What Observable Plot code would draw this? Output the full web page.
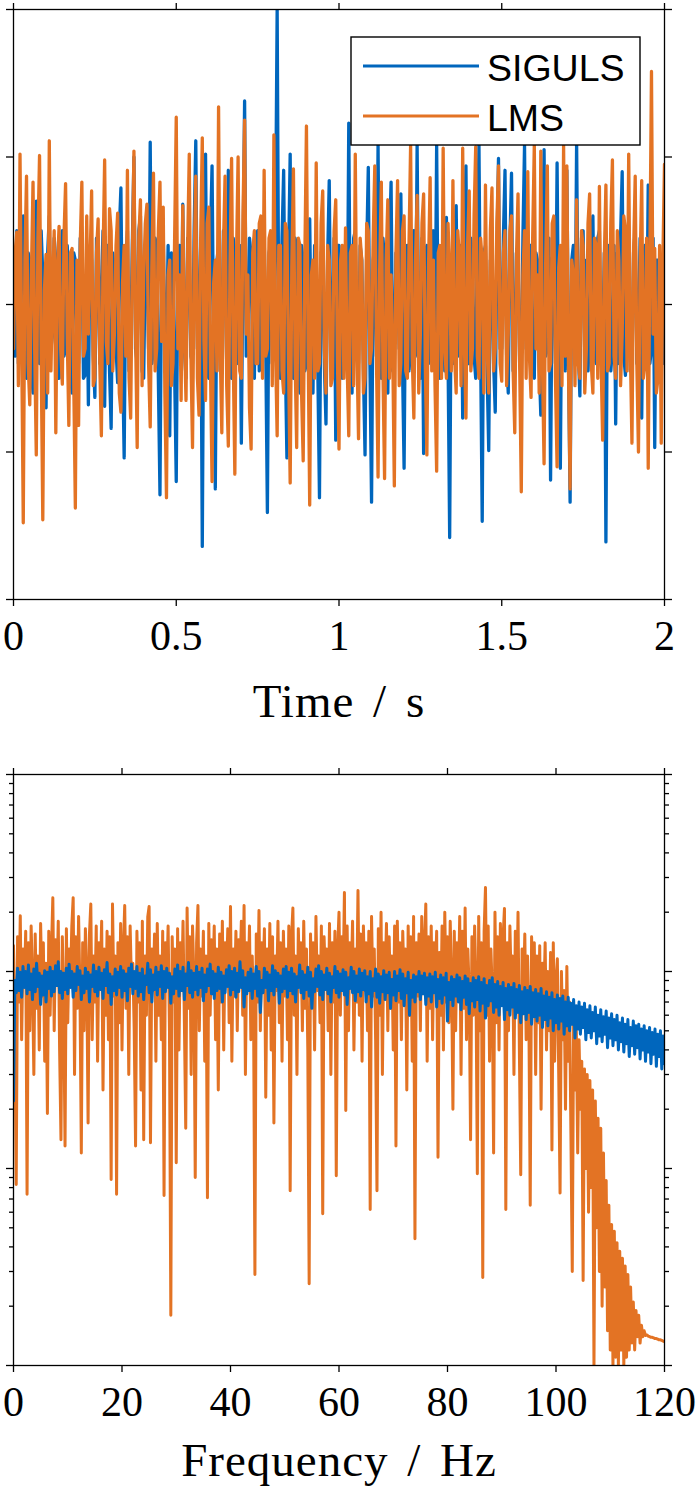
<!DOCTYPE html>
<html>
<head>
<meta charset="utf-8">
<script src="https://cdn.jsdelivr.net/npm/d3@7"></script>
<script src="https://cdn.jsdelivr.net/npm/@observablehq/plot@0.6"></script>
<style>
  body { margin: 0; background: #fff; }
  #wrap { position: relative; width: 698px; height: 1496px; background: #fff; }
  #wrap svg { position: absolute; left: 0; }
</style>
</head>
<body>
<div id="wrap"></div>
<script>
// ---------- DATA ----------
const seriesNames = ["SIGULS", "LMS"];
const sampleRate = 200;          // digitised samples per second (time panel)
const freqStep = 0.25;           // digitised bin spacing in Hz (spectrum panel)
const timeTicks = [0, 0.5, 1, 1.5, 2];
const timeValueTicks = [-2, -1, 0, 1, 2];
const freqTicks = [0, 20, 40, 60, 80, 100, 120];
const specDecades = [0.001, 0.01, 0.1, 1];
const axisLabels = ["Time / s", "Frequency / Hz"];

const sigulsTime = [
  0.0,-0.35, 0.5,-0.4, -0.3,0.45, 0.6,-0.3, -0.5,0.35, 0.3,-0.45, -0.6,0.3, 0.7,-0.25, -0.4,0.5, 0.2,-0.4,
  -0.7,0.35, 0.6,-0.3, -0.2,0.45, 0.3,-0.5, -0.5,0.3, 0.5,-0.35, -0.3,0.4, 0.2,-0.45, -0.6,0.35, 0.3,-0.3,
  -0.4,0.45, 0.4,-0.5, -0.48,0.3, -0.68,0.4, 0.3,-0.35, -0.63,0.45, 0.32,-0.4, 0.1,0.5, -0.69,0.3, 0.4,-0.45,
  -0.84,0.35, 0.2,-0.3, -0.53,0.5, 0.79,-0.35, -1.04,0.3, 0.5,-0.45, -0.3,0.4, 1.0,-0.3, -0.4,0.5, 0.6,-0.45,
  -0.5,0.35, 0.4,-0.3, 1.1,-0.4, -0.3,0.45, 0.4,-0.5, -1.29,0.3, 0.5,-0.35, -0.3,0.4, -0.89,0.35, 0.3,-0.45,
  -1.2,0.3, 0.4,-0.4, 0.68,-0.3, -0.5,0.45, 0.3,-0.35, -0.4,0.5, 1.11,-0.3, -0.2,0.4, -1.64,0.35, 1.02,-0.4,
  -0.5,0.45, 0.94,-0.35, -1.25,0.3, 0.4,-0.45, -0.3,0.5, 0.22,-0.4, 0.91,-0.3, -0.5,0.45, 0.33,-0.35, -0.4,0.4,
  -0.94,0.3, 1.38,-0.35, -0.3,0.45, 0.34,-0.4, -0.5,0.35, 0.5,-0.45, -0.4,0.4, 0.5,-0.3, -1.41,0.35, 0.41,-0.4,
  -0.3,0.5, 2.0,-0.2, -0.5,0.45, 0.91,-0.35, -1.04,0.3, 1.02,-0.4, -0.5,0.45, 0.4,-0.35, -0.6,0.4, 0.3,-0.45,
  -0.4,0.5, 0.58,-0.35, -0.6,0.4, 0.3,-0.45, -1.31,0.35, 0.4,-0.4, -0.81,0.3, 0.84,-0.35, -0.3,0.45, -0.92,0.4,
  0.4,-0.45, -0.5,0.35, 0.3,-0.4, 1.23,-0.3, -0.6,0.45, 0.5,-0.35, -0.4,0.4, 0.3,-0.45, -1.02,0.35, 0.93,-0.4,
  -1.34,0.3, 0.4,-0.35, 1.08,-0.4, -0.5,0.45, 0.3,-0.35, -0.6,0.4, 0.83,-0.45, -0.4,0.35, 0.3,-0.3, 0.75,-0.4,
  -1.11,0.3, 0.4,-0.45, -0.3,0.4, 0.5,-0.35, 1.08,-0.3, -0.5,0.45, -1.01,0.35, 0.4,-0.4, -0.3,0.45, 0.5,-0.35,
  1.08,-0.3, -0.5,0.4, 0.3,-0.45, 0.59,-0.35, -1.58,0.3, -0.4,0.45, 0.67,-0.35, -0.2,0.4, -0.77,0.35, 0.94,-0.4,
  -0.4,0.45, 0.3,-0.35, -0.5,0.4, 1.08,-0.3, -1.47,0.35, 0.4,-0.45, -0.99,0.3, 0.3,-0.4, -0.73,0.35, 0.99,-0.3,
  -0.3,0.45, 0.91,-0.35, -0.6,0.4, 0.89,-0.45, -0.4,0.35, 0.3,-0.4, -0.5,0.45, 1.08,-0.3, -0.3,0.4, 0.4,-0.45,
  -0.5,0.35, 0.3,-0.4, -0.75,0.3, 1.05,-0.35, -0.3,0.45, -1.19,0.3, 0.4,-0.4, 0.96,-0.35, -1.11,0.3, 0.4,-0.45,
  0.91,-0.35, -1.34,0.3, 0.4,-0.4, 1.1,-0.3, -0.62,0.45, 0.5,-0.35, 0.3,-0.45, -0.19,0.4, 0.6,-0.35, -0.4,0.45,
  0.5,-0.4, -0.3,0.35, -1.61,0.3, 0.4,-0.45, -0.3,0.4, -0.81,0.35, -0.4,0.45, 0.9,-0.35, -0.48,0.4, 0.3,-0.45,
  -0.4,0.35, 0.5,-0.4, -0.2,0.45, -0.77,0.3, 0.4,-0.35, 0.81,-0.4, -0.3,0.45, -0.97,0.3, 0.3,-0.35, 0.16,-0.4,
  -0.24
];

const lmsTime = [
  -0.30,0.35, 0.49,-0.55, 1.02,-0.25, -1.48,0.30, 0.87,-0.40, -0.68,0.20, 0.83,-0.30, -1.02,0.45, 1.01,-0.35, -1.46,0.10,
  0.34,-0.60, 1.11,-0.45, 0.10,0.50, -0.87,0.25, 0.53,-0.30, -0.54,0.45, 0.82,-0.20, -0.82,0.35, 0.38,-0.50, -1.38,0.30,
  -0.82,0.40, 0.83,-0.35, -0.30,0.60, -0.20,0.25, 0.77,-0.55, -0.50,0.35, 0.58,-0.40, -0.89,0.30, 0.98,-0.25, -0.40,0.65,
  0.50,-0.45, -0.20,0.40, 0.62,-0.60, -0.73,0.15, 0.40,-0.35, 0.91,-0.50, -0.77,0.30, 1.04,-0.20, -0.97,0.45, 0.71,-0.55,
  0.20,0.55, 0.68,-0.40, -0.83,0.25, 0.89,-0.45, -0.30,0.50, 0.83,-0.25, 0.66,-0.60, -1.31,0.20, 0.30,-0.55, -0.40,0.45,
  1.27,-0.30, 0.20,-0.65, 0.67,-0.20, -0.65,0.40, 1.02,-0.35, -0.97,0.30, 0.87,-0.50, -0.75,0.45, 1.13,-0.25, -0.65,0.55,
  0.66,-0.40, -1.20,0.15, 0.30,-0.45, 1.34,-0.30, -0.87,0.40, 0.87,-0.55, -0.96,0.25, 0.99,-0.35, -1.15,0.30, 1.00,-0.45,
  -0.50,0.60, 1.25,-0.20, 0.20,-0.70, -0.98,0.35, 0.50,-0.40, -0.40,0.55, 0.60,-0.50, 0.91,-0.35, -0.30,0.45, 0.50,-0.55,
  1.15,-0.30, -0.89,0.40, 0.40,-0.45, -0.60,0.55, 0.50,-0.40, -1.21,0.25, 0.92,-0.35, -0.97,0.45, 0.40,-0.60, -1.06,0.30,
  1.21,-0.25, -1.36,0.20, 0.30,-0.50, 0.96,-0.45, -0.40,0.55, 0.77,-0.30, -0.60,0.40, 0.30,-0.55, -0.50,0.50, 0.71,-0.35,
  -0.98,0.30, 0.40,-0.50, 0.52,-0.40, -0.89,0.35, 0.40,-0.55, 1.02,-0.30, -0.91,0.45, 0.30,-0.60, -0.50,0.55, 0.50,-0.40,
  -0.30,0.45, 0.94,-0.35, -1.17,0.25, 0.83,-0.45, -1.18,0.30, 0.71,-0.50, 0.20,-0.30, -1.23,0.35, 0.84,-0.55, -0.40,0.50,
  0.60,-0.45, -0.50,0.40, 1.08,-0.35, -0.77,0.30, 0.74,-0.60, -0.20,0.55, 0.75,-0.40, -1.02,0.25, 0.86,-0.45, 0.30,-0.55,
  -1.13,0.35, 0.40,-0.50, 1.06,-0.30, -0.50,0.55, 0.20,-0.45, 0.84,-0.35, -0.60,0.50, 0.30,-0.55, 1.06,-0.25, -0.77,0.40,
  0.77,-0.45, -0.30,0.60, 1.07,-0.35, -0.50,0.45, 0.30,-0.60, 0.81,-0.30, -0.60,0.50, 0.79,-0.45, -0.30,0.55, 0.94,-0.40,
  -0.52,0.35, 0.50,-0.55, -0.20,0.50, 0.60,-0.45, -0.87,0.30, 0.75,-0.40, -1.27,0.20, 0.50,-0.50, 0.90,-0.35, -0.63,0.45,
  1.08,-0.30, 0.20,-0.60, 1.04,-0.40, -1.08,0.30, 0.94,-0.45, -0.40,0.55, 0.60,-0.50, -1.10,0.25, 0.40,-0.55, 1.08,-0.35,
  0.94,-0.45, -1.25,0.30, 0.20,-0.55, 0.71,-0.40, -0.50,0.50, 0.40,-0.60, -0.30,0.55, 0.75,-0.40, -0.60,0.45, 0.40,-0.50,
  0.80,-0.35, -0.92,0.30, 0.81,-0.45, -0.40,0.55, 0.98,-0.35, -0.50,0.50, 0.30,-0.55, -0.20,0.60, 0.50,-0.45, 1.02,-0.30,
  -0.94,0.35, 0.87,-0.40, -1.00,0.25, 0.84,-0.50, -0.40,0.45, -1.11,0.30, 1.58,-0.20, 0.38,-0.60, -0.50,0.40, -0.94,0.30,
  0.95
];

const sigulsSpec = [
  0.022,0.09,0.078,0.104,0.08,0.099,0.074,0.106,0.083,0.1,0.077,0.108,0.081,0.097,0.072,0.103,0.079,0.11,0.084,0.098,
  0.068,0.095,0.076,0.101,0.07,0.099,0.082,0.105,0.075,0.1,0.079,0.107,0.085,0.112,0.078,0.1,0.073,0.098,0.081,0.104,
  0.077,0.109,0.083,0.1,0.074,0.097,0.08,0.106,0.086,0.101,0.072,0.095,0.078,0.104,0.082,0.099,0.07,0.096,0.084,0.108,
  0.079,0.1,0.075,0.105,0.081,0.098,0.073,0.102,0.085,0.111,0.078,0.097,0.068,0.094,0.08,0.103,0.076,0.099,0.083,0.106,
  0.074,0.101,0.08,0.097,0.071,0.104,0.084,0.109,0.077,0.1,0.082,0.106,0.075,0.098,0.079,0.103,0.072,0.095,0.086,0.11,
  0.078,0.102,0.07,0.096,0.081,0.105,0.076,0.099,0.084,0.107,0.073,0.1,0.079,0.104,0.083,0.098,0.069,0.094,0.077,0.103,
  0.082,0.108,0.075,0.1,0.08,0.105,0.072,0.097,0.085,0.111,0.078,0.101,0.074,0.098,0.081,0.106,0.076,0.099,0.083,0.104,
  0.071,0.096,0.079,0.103,0.085,0.109,0.077,0.1,0.073,0.097,0.08,0.105,0.082,0.099,0.07,0.095,0.078,0.102,0.084,0.107,
  0.076,0.1,0.081,0.104,0.074,0.098,0.079,0.112,0.083,0.101,0.066,0.093,0.077,0.099,0.08,0.103,0.073,0.097,0.082,0.106,
  0.075,0.1,0.062,0.09,0.078,0.104,0.083,0.099,0.071,0.096,0.08,0.107,0.076,0.101,0.084,0.098,0.069,0.095,0.079,0.103,
  0.082,0.106,0.074,0.099,0.08,0.104,0.077,0.097,0.07,0.094,0.083,0.108,0.078,0.1,0.073,0.096,0.081,0.105,0.075,0.099,
  0.065,0.092,0.079,0.103,0.084,0.107,0.076,0.1,0.072,0.096,0.081,0.104,0.077,0.098,0.07,0.094,0.083,0.106,0.078,0.1,
  0.074,0.097,0.08,0.102,0.076,0.099,0.068,0.093,0.082,0.105,0.078,0.1,0.071,0.095,0.079,0.103,0.075,0.098,0.081,0.101,
  0.07,0.094,0.077,0.1,0.066,0.092,0.08,0.103,0.074,0.097,0.069,0.094,0.079,0.101,0.072,0.096,0.078,0.099,0.065,0.091,
  0.076,0.1,0.071,0.095,0.08,0.102,0.073,0.097,0.067,0.092,0.078,0.099,0.06,0.09,0.074,0.096,0.07,0.094,0.079,0.1,
  0.072,0.095,0.077,0.098,0.068,0.093,0.075,0.097,0.07,0.094,0.078,0.099,0.066,0.091,0.073,0.096,0.069,0.093,0.076,0.098,
  0.056,0.088,0.072,0.094,0.067,0.091,0.075,0.096,0.07,0.093,0.064,0.089,0.074,0.095,0.068,0.092,0.061,0.087,0.071,0.093,
  0.066,0.09,0.072,0.094,0.063,0.088,0.069,0.092,0.058,0.085,0.067,0.09,0.071,0.093,0.062,0.086,0.066,0.089,0.06,0.084,
  0.067,0.088,0.057,0.082,0.064,0.086,0.06,0.083,0.066,0.087,0.058,0.081,0.062,0.085,0.055,0.079,0.061,0.083,0.057,0.08,
  0.062,0.084,0.054,0.078,0.059,0.081,0.056,0.077,0.06,0.082,0.052,0.075,0.057,0.079,0.053,0.074,0.058,0.078,0.05,0.072,
  0.055,0.076,0.051,0.073,0.056,0.075,0.048,0.07,0.053,0.074,0.05,0.069,0.054,0.072,0.046,0.067,0.051,0.07,0.048,0.066,
  0.052,0.069,0.045,0.064,0.049,0.067,0.046,0.062,0.05,0.066,0.043,0.06,0.047,0.064,0.044,0.059,0.048,0.063,0.041,0.058,
  0.046,0.061,0.042,0.057,0.045,0.06,0.04,0.055,0.044,0.058,0.039,0.054,0.043,0.057,0.037,0.052,0.042,0.056,0.038,0.053,
  0.041,0.054,0.036,0.051,0.04,0.053,0.035,0.05,0.039,0.052,0.034,0.049,0.038,0.051,0.033,0.048,0.037,0.05,0.032,0.047,
  0.034
];

const lmsSpec = [
  0.135,0.06,0.0083,0.15,0.07,0.192,0.045,0.13,0.085,0.16,0.0074,0.14,0.05,0.17,0.09,0.03,0.155,0.065,0.12,0.04,
  0.175,0.075,0.14,0.035,0.11,0.019,0.16,0.06,0.13,0.237,0.05,0.145,0.085,0.18,0.04,0.014,0.15,0.07,0.013,0.165,
  0.055,0.13,0.09,0.17,0.237,0.03,0.15,0.065,0.19,0.08,0.012,0.14,0.05,0.165,0.1,0.017,0.155,0.22,0.045,0.12,
  0.07,0.17,0.035,0.14,0.09,0.18,0.025,0.13,0.06,0.16,0.045,0.15,0.0088,0.22,0.075,0.12,0.0074,0.14,0.055,0.175,
  0.04,0.13,0.216,0.065,0.15,0.03,0.17,0.085,0.11,0.05,0.013,0.16,0.07,0.14,0.025,0.18,0.014,0.12,0.06,0.19,
  0.214,0.0135,0.13,0.08,0.155,0.035,0.175,0.06,0.12,0.045,0.16,0.0073,0.14,0.09,0.17,0.05,0.0018,0.15,0.07,0.13,
  0.0107,0.165,0.04,0.14,0.08,0.18,0.055,0.016,0.21,0.065,0.15,0.03,0.17,0.095,0.009,0.14,0.216,0.05,0.13,0.075,
  0.16,0.035,0.12,0.0071,0.175,0.06,0.145,0.085,0.17,0.045,0.13,0.025,0.155,0.07,0.18,0.04,0.14,0.09,0.165,0.055,
  0.214,0.035,0.13,0.075,0.16,0.05,0.145,0.1,0.18,0.06,0.216,0.03,0.14,0.085,0.17,0.045,0.12,0.065,0.0029,0.155,
  0.07,0.204,0.05,0.14,0.09,0.165,0.023,0.13,0.06,0.175,0.04,0.15,0.017,0.12,0.08,0.18,0.055,0.14,0.035,0.16,
  0.075,0.13,0.045,0.17,0.0077,0.15,0.21,0.06,0.12,0.03,0.165,0.085,0.14,0.05,0.18,0.065,0.13,0.04,0.0026,0.155,
  0.07,0.14,0.04,0.19,0.08,0.12,0.055,0.17,0.0059,0.15,0.09,0.13,0.05,0.175,0.03,0.14,0.07,0.16,0.0092,0.13,
  0.2,0.06,0.15,0.085,0.252,0.0197,0.17,0.05,0.14,0.09,0.18,0.04,0.13,0.07,0.258,0.06,0.155,0.035,0.17,0.08,
  0.14,0.05,0.16,0.0062,0.19,0.075,0.13,0.045,0.0077,0.165,0.06,0.2,0.03,0.14,0.09,0.175,0.05,0.15,0.065,0.12,
  0.04,0.17,0.013,0.18,0.07,0.14,0.045,0.16,0.085,0.13,0.025,0.17,0.06,0.15,0.035,0.19,0.0044,0.14,0.075,0.155,
  0.05,0.19,0.08,0.13,0.22,0.035,0.15,0.065,0.17,0.045,0.14,0.09,0.16,0.0114,0.125,0.06,0.17,0.04,0.2,0.07,
  0.15,0.055,0.18,0.09,0.02,0.16,0.05,0.14,0.075,0.19,0.03,0.16,0.065,0.21,0.045,0.13,0.08,0.014,0.15,0.06,
  0.17,0.085,0.0094,0.19,0.05,0.14,0.0028,0.16,0.267,0.06,0.17,0.035,0.13,0.08,0.012,0.2,0.055,0.15,0.04,0.175,
  0.07,0.15,0.209,0.0062,0.14,0.05,0.17,0.085,0.12,0.03,0.16,0.065,0.2,0.04,0.0093,0.13,0.075,0.155,0.045,0.12,
  0.06,0.0065,0.15,0.08,0.14,0.03,0.12,0.055,0.135,0.02,0.11,0.07,0.14,0.04,0.1,0.05,0.125,0.0124,0.14,0.035,
  0.09,0.116,0.03,0.0075,0.1,0.045,0.08,0.02,0.106,0.035,0.07,0.015,0.003,0.06,0.025,0.05,0.012,0.045,0.02,0.035,
  0.0027,0.032,0.01,0.03,0.006,0.028,0.008,0.025,0.001,0.022,0.005,0.018,0.003,0.016,0.002,0.012,0.0025,0.0087,0.0015,0.0065,
  0.0012,0.0052,0.001,0.0048,0.0011,0.0042,0.001,0.0038,0.0012,0.0035,0.001,0.0032,0.0011,0.0029,0.0012,0.0025,0.0013,0.0021,0.0012,0.0019,
  0.0014,0.0018,0.0013,0.0016,0.0014,0.0015,0.00142,0.00143,0.00141,0.0014,0.00139,0.00139,0.00138,0.00137,0.00137,0.00136,0.00135,0.00135,0.00134,0.00133,
  0.00132
];

// ---------- STYLE ----------
const blue = "#0066BD";
const orange = "#E37324";
const serif = "'Liberation Serif', 'Times New Roman', serif";
const tickFont = 42;

const sigT = sigulsTime.map((v, i) => ({t: i / sampleRate, v}));
const lmsT = lmsTime.map((v, i) => ({t: i / sampleRate, v}));
const sigF = sigulsSpec.map((v, i) => ({f: i * freqStep, v}));
const lmsF = lmsSpec.map((v, i) => ({f: i * freqStep, v}));
const minorTicks = specDecades.slice(0, -1).flatMap(d => [2,3,4,5,6,7,8,9].map(k => k * d));

const blank = () => "";
const axisCommon = {tickSize: 7, label: null, strokeWidth: 1.3};

const topPlot = Plot.plot({
  width: 698, height: 750,
  marginTop: 9, marginRight: 34, marginBottom: 151, marginLeft: 13,
  style: {fontFamily: serif, fontSize: tickFont + "px", background: "white", overflow: "visible", color: "black"},
  x: {domain: [0, 2]},
  y: {domain: [-2, 2]},
  marks: [
    Plot.line(sigT, {x: "t", y: "v", stroke: blue, strokeWidth: 3.3, clip: true}),
    Plot.line(lmsT, {x: "t", y: "v", stroke: orange, strokeWidth: 3.3, clip: true}),
    Plot.frame({stroke: "black", strokeWidth: 1.3}),
    Plot.axisX({...axisCommon, anchor: "bottom", ticks: timeTicks, tickPadding: 14, tickFormat: d => String(d), fontSize: tickFont}),
    Plot.axisX({...axisCommon, anchor: "top", ticks: timeTicks, tickFormat: blank}),
    Plot.axisY({...axisCommon, anchor: "left", ticks: timeValueTicks, tickFormat: blank}),
    Plot.axisY({...axisCommon, anchor: "right", ticks: timeValueTicks, tickFormat: blank}),
    Plot.text([axisLabels[0]], {text: d => d, frameAnchor: "bottom", lineAnchor: "bottom", dy: 117, fontSize: 47, fill: "black"})
  ]
});

const botPlot = Plot.plot({
  width: 698, height: 746,
  marginTop: 24, marginRight: 34, marginBottom: 131, marginLeft: 13,
  style: {fontFamily: serif, fontSize: tickFont + "px", background: "white", overflow: "visible", color: "black"},
  x: {domain: [0, 120]},
  y: {type: "log", domain: [0.001, 1]},
  marks: [
    Plot.line(lmsF, {x: "f", y: "v", stroke: orange, strokeWidth: 3, clip: true}),
    Plot.line(sigF, {x: "f", y: "v", stroke: blue, strokeWidth: 3, clip: true}),
    Plot.frame({stroke: "black", strokeWidth: 1.3}),
    Plot.axisX({...axisCommon, anchor: "bottom", ticks: freqTicks, tickPadding: 14, tickFormat: d => String(d), fontSize: tickFont}),
    Plot.axisX({...axisCommon, anchor: "top", ticks: freqTicks, tickFormat: blank}),
    Plot.axisY({...axisCommon, anchor: "left", ticks: specDecades, tickFormat: blank}),
    Plot.axisY({...axisCommon, anchor: "left", ticks: minorTicks, tickSize: 4, tickFormat: blank}),
    Plot.axisY({...axisCommon, anchor: "right", ticks: specDecades, tickFormat: blank}),
    Plot.axisY({...axisCommon, anchor: "right", ticks: minorTicks, tickSize: 4, tickFormat: blank}),
    Plot.text([axisLabels[1]], {text: d => d, frameAnchor: "bottom", lineAnchor: "bottom", dy: 110, fontSize: 47, fill: "black"})
  ]
});

const wrap = document.getElementById("wrap");
topPlot.style.top = "0px";
botPlot.style.top = "750px";
wrap.appendChild(topPlot);
wrap.appendChild(botPlot);

// wider LaTeX-like spacing for the axis titles
[topPlot, botPlot].forEach(svg => {
  d3.select(svg).selectAll("text")
    .filter(function() { return axisLabels.includes(this.textContent); })
    .style("letter-spacing", "1px")
    .style("word-spacing", "6px");
});

// legend inside the top axes
const lg = d3.select(topPlot).append("g")
  .attr("font-family", "'Liberation Sans', Arial, sans-serif")
  .attr("font-size", 37.5)
  .attr("text-anchor", "start");
lg.append("rect").attr("x", 351).attr("y", 37).attr("width", 289).attr("height", 108)
  .attr("fill", "white").attr("stroke", "black").attr("stroke-width", 1.4);
const legendItems = [{name: seriesNames[0], color: blue}, {name: seriesNames[1], color: orange}];
legendItems.forEach((d, i) => {
  const yy = 66 + i * 50;
  lg.append("line").attr("x1", 363).attr("x2", 479).attr("y1", yy).attr("y2", yy)
    .attr("stroke", d.color).attr("stroke-width", 3);
  lg.append("text").attr("x", 487).attr("y", yy + 15).attr("fill", "black")
    .attr("text-anchor", "start").text(d.name);
});
</script>
</body>
</html>
